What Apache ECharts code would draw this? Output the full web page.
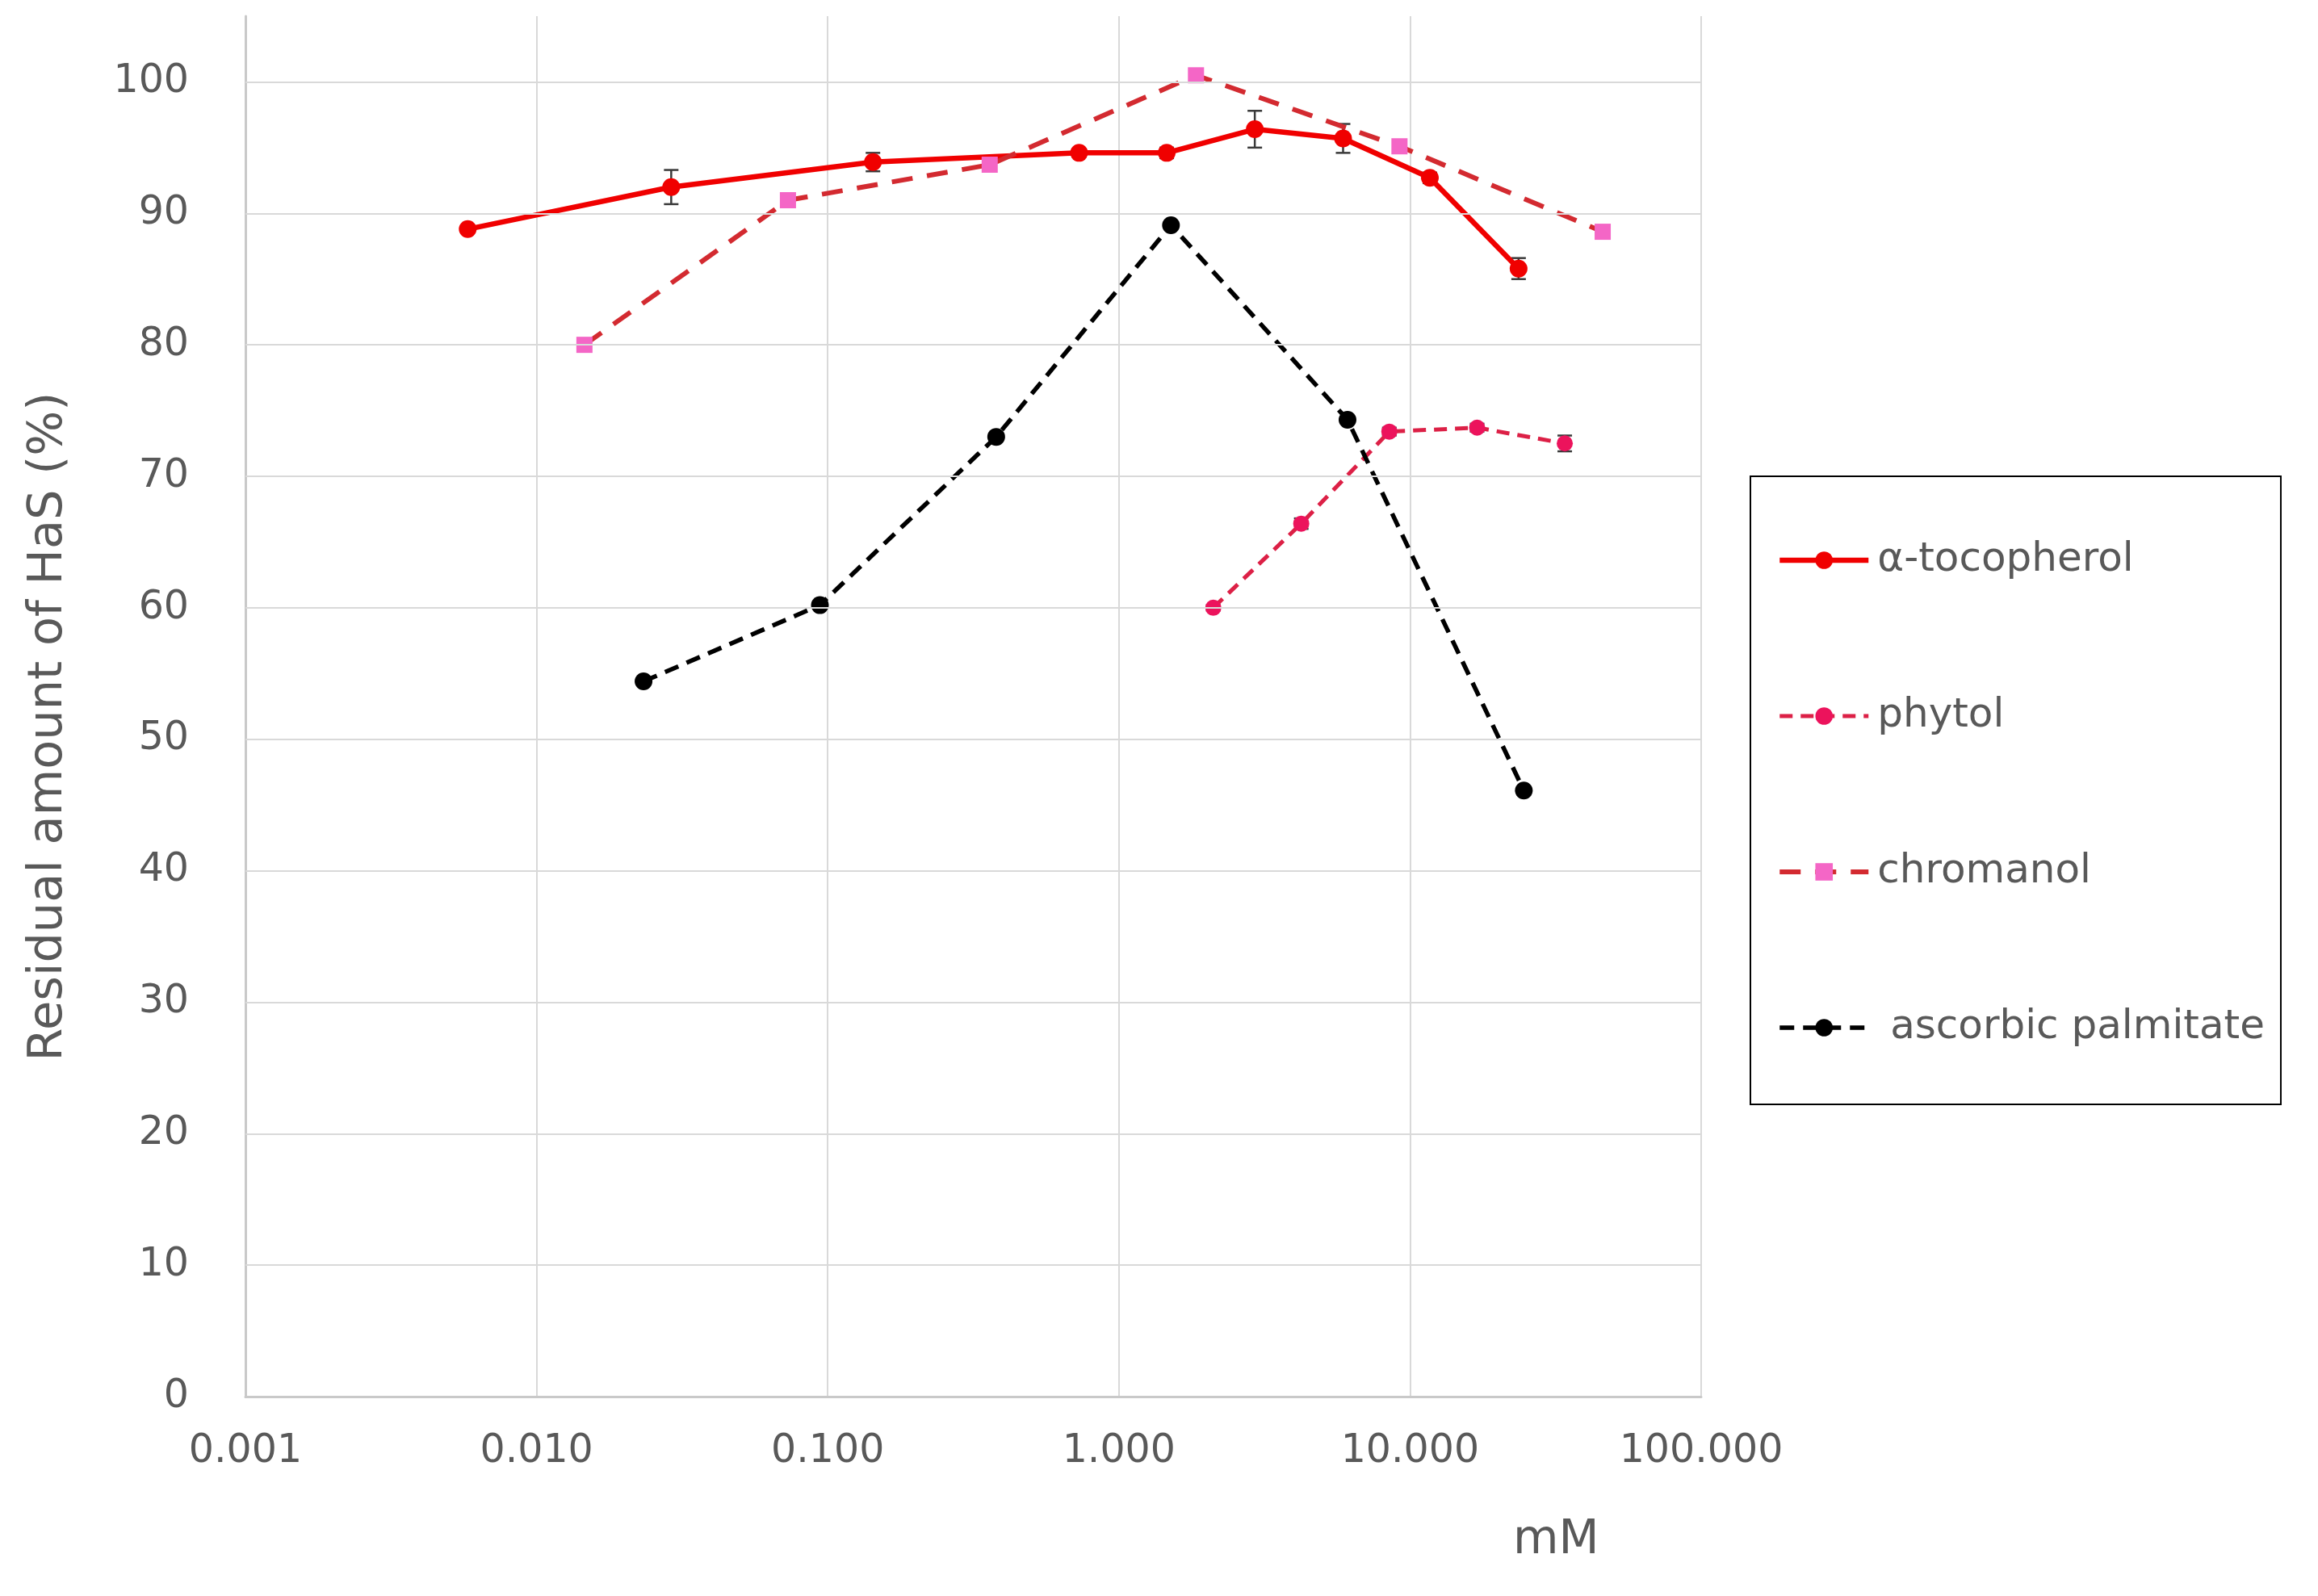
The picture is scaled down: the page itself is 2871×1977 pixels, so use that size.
<!DOCTYPE html>
<html>
<head>
<meta charset="utf-8">
<script src="https://cdn.jsdelivr.net/npm/echarts@6/dist/echarts.min.js"></script>
<style>
html,body{margin:0;padding:0;background:#fff;}
#chart{width:2871px;height:1977px;}
</style>
</head>
<body>
<div id="chart"></div>
<script>
// ---- data ----
var xTickLabels = ['0.001', '0.010', '0.100', '1.000', '10.000', '100.000'];
var yTickLabels = ['0', '10', '20', '30', '40', '50', '60', '70', '80', '90', '100'];
var yGridValues = [10, 20, 30, 40, 50, 60, 70, 80, 90, 100];

var seriesNames = ['α-tocopherol', 'phytol', 'chromanol', ' ascorbic palmitate'];

var tocoX   = [0.0058, 0.029, 0.143, 0.73, 1.46, 2.93, 5.89, 11.7, 23.6];
var tocoY   = [88.8, 92.0, 93.9, 94.6, 94.6, 96.4, 95.7, 92.7, 85.8];
var tocoErr = [0, 1.3, 0.7, 0.3, 0.4, 1.4, 1.1, 0.4, 0.8];

var phytolX   = [2.11, 4.23, 8.49, 17.0, 34.0];
var phytolY   = [60.0, 66.4, 73.4, 73.7, 72.5];
var phytolErr = [0.2, 0.4, 0.3, 0.3, 0.6];

var chromX = [0.0146, 0.073, 0.36, 1.84, 9.2, 45.9];
var chromY = [80.0, 91.0, 93.7, 100.5, 95.1, 88.6];

var ascX = [0.0233, 0.094, 0.379, 1.51, 6.10, 24.6];
var ascY = [54.4, 60.2, 73.0, 89.1, 74.3, 46.1];

// ---- helpers ----
function pairs(xs, ys) { return xs.map(function (x, i) { return [x, ys[i]]; }); }
function errData(xs, ys, es) { return xs.map(function (x, i) { return [x, ys[i] - es[i], ys[i] + es[i]]; }); }

var FONT = 'DejaVu Sans';
var TXT = '#595959';

function errorBarSeries(data, color) {
  return {
    type: 'custom',
    data: data,
    z: 3,
    silent: true,
    renderItem: function (params, api) {
      var x = api.value(0);
      var lo = api.coord([x, api.value(1)]);
      var hi = api.coord([x, api.value(2)]);
      var cap = 9;
      var st = { stroke: color, lineWidth: 2.5 };
      return {
        type: 'group',
        children: [
          { type: 'line', shape: { x1: lo[0], y1: lo[1], x2: hi[0], y2: hi[1] }, style: st },
          { type: 'line', shape: { x1: lo[0] - cap, y1: lo[1], x2: lo[0] + cap, y2: lo[1] }, style: st },
          { type: 'line', shape: { x1: hi[0] - cap, y1: hi[1], x2: hi[0] + cap, y2: hi[1] }, style: st }
        ]
      };
    },
    encode: { x: 0, y: [1, 2] }
  };
}

var chart = echarts.init(document.getElementById('chart'), null, { renderer: 'canvas' });

var option = {
  backgroundColor: '#ffffff',
  animation: false,
  textStyle: { fontFamily: FONT, color: TXT },
  grid: { left: 304, right: 764, top: 20, bottom: 247, containLabel: false },
  xAxis: {
    type: 'log',
    logBase: 10,
    min: 0.001,
    max: 100,
    axisLine: { show: true, lineStyle: { color: '#c9c9c9', width: 3 } },
    axisTick: { show: false },
    splitLine: { show: true, lineStyle: { color: '#d9d9d9', width: 2 } },
    axisLabel: {
      margin: 44,
      fontFamily: FONT,
      fontSize: 49,
      color: TXT,
      formatter: function (v) {
        var i = Math.round(Math.log10(v)) + 3;
        return xTickLabels[i] !== undefined ? xTickLabels[i] : '';
      }
    }
  },
  yAxis: {
    type: 'value',
    min: 0,
    max: 105,
    interval: 10,
    name: 'Residual amount of HaS (%)',
    nameLocation: 'middle',
    nameRotate: 90,
    nameGap: 214,
    nameTextStyle: { fontFamily: FONT, fontSize: 59, color: TXT, padding: [0, 50, 0, 0] },
    axisLine: { show: true, lineStyle: { color: '#c9c9c9', width: 3 } },
    axisTick: { show: false },
    splitLine: { show: false },
    axisLabel: {
      margin: 70,
      fontFamily: FONT,
      fontSize: 49,
      color: TXT,
      showMaxLabel: false,
      formatter: function (v) {
        var i = Math.round(v / 10);
        return (v % 10 === 0 && yTickLabels[i] !== undefined) ? yTickLabels[i] : '';
      }
    }
  },
  legend: {
    data: seriesNames,
    orient: 'vertical',
    left: 2168,
    top: 590,
    padding: [76, 20, 67, 33],
    itemGap: 137,
    itemWidth: 110,
    itemHeight: 27,
    borderColor: '#000000',
    borderWidth: 2,
    lineStyle: { width: 'inherit' },
    textStyle: { fontFamily: FONT, fontSize: 50, color: TXT, lineHeight: 56, padding: [0, 0, 0, 6] },
    selectedMode: false
  },
  graphic: [
    { type: 'text', left: 1874, top: 1880, style: { text: 'mM', fontFamily: FONT, fontSize: 58, fill: TXT } }
  ],
  series: [
    {
      type: 'line',
      data: [],
      silent: true,
      z: 1,
      markLine: {
        silent: true,
        symbol: ['none', 'none'],
        label: { show: false },
        lineStyle: { color: '#d9d9d9', width: 2, type: 'solid' },
        data: yGridValues.map(function (v) { return { yAxis: v }; })
      }
    },
    {
      name: seriesNames[0],
      type: 'line',
      data: pairs(tocoX, tocoY),
      symbol: 'circle',
      symbolSize: 22,
      z: 4,
      lineStyle: { color: '#f00000', width: 6.5, type: 'solid' },
      itemStyle: { color: '#f00000' }
    },
    {
      name: seriesNames[1],
      type: 'line',
      data: pairs(phytolX, phytolY),
      symbol: 'circle',
      symbolSize: 20,
      z: 4,
      lineStyle: { color: '#dc2046', width: 5, type: [16, 10] },
      itemStyle: { color: '#ec135c' }
    },
    {
      name: seriesNames[2],
      type: 'line',
      data: pairs(chromX, chromY),
      symbol: 'rect',
      symbolSize: 20,
      z: 4,
      lineStyle: { color: '#d32a30', width: 6, type: [26, 18] },
      itemStyle: { color: '#f466c6' }
    },
    {
      name: seriesNames[3],
      type: 'line',
      data: pairs(ascX, ascY),
      symbol: 'circle',
      symbolSize: 22,
      z: 4,
      lineStyle: { color: '#000000', width: 5.5, type: [18, 11] },
      itemStyle: { color: '#000000' }
    },
    errorBarSeries(errData(tocoX, tocoY, tocoErr), '#3a3a3a'),
    errorBarSeries(errData(phytolX, phytolY, phytolErr), '#3a3a3a')
  ]
};

chart.setOption(option);
</script>
</body>
</html>
